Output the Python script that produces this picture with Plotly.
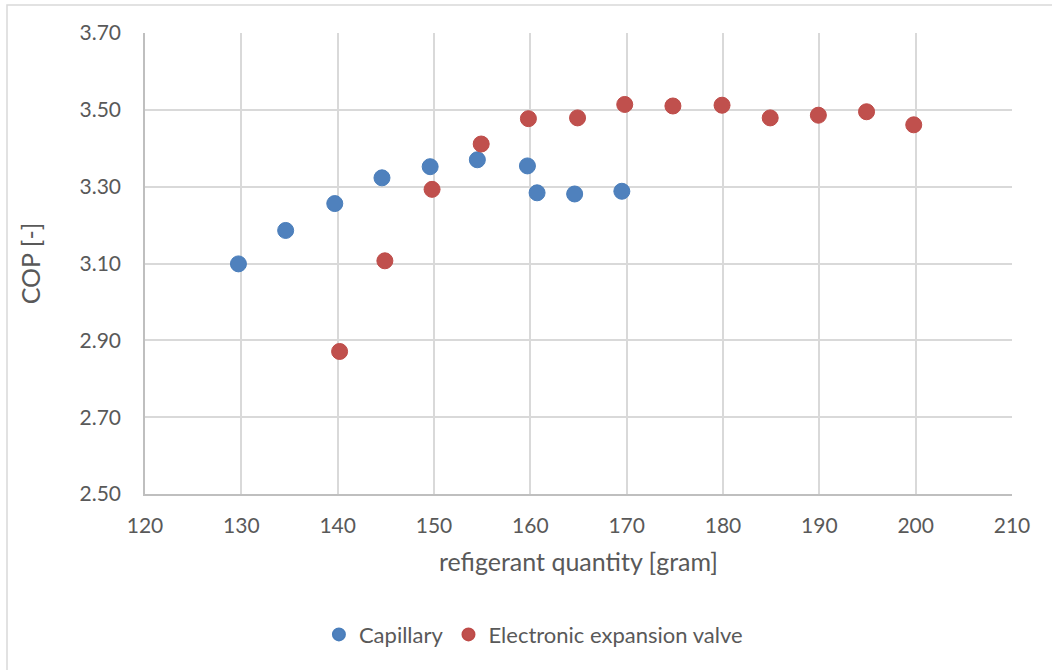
import plotly.graph_objects as go

# Refrigerant charge [g] and measured COP for each expansion device
capillary_charge = [129.7, 134.6, 139.7, 144.6, 149.6, 154.5, 159.7, 160.7, 164.6, 169.5]
capillary_cop = [3.099, 3.186, 3.256, 3.323, 3.352, 3.370, 3.354, 3.284, 3.281, 3.288]

eev_charge = [140.2, 144.9, 149.8, 154.9, 159.8, 164.9, 169.8, 174.8, 179.9, 184.9, 189.9, 194.9, 199.8]
eev_cop = [2.871, 3.107, 3.293, 3.411, 3.477, 3.479, 3.514, 3.510, 3.512, 3.479, 3.486, 3.495, 3.461]

x_ticks = [120, 130, 140, 150, 160, 170, 180, 190, 200, 210]
y_ticks = [2.50, 2.70, 2.90, 3.10, 3.30, 3.50, 3.70]

FONT = "Lato"
TEXT = "#595959"
GRID = "#d9d9d9"

fig = go.Figure()
fig.add_trace(go.Scatter(
    x=capillary_charge, y=capillary_cop, mode="markers", name="Capillary",
    marker=dict(size=16, color="#4f81bd", line=dict(width=1, color="#4a7ebb")),
))
fig.add_trace(go.Scatter(
    x=eev_charge, y=eev_cop, mode="markers", name="Electronic expansion valve",
    marker=dict(size=16, color="#c0504d", line=dict(width=1, color="#be4b48")),
))

fig.update_layout(
    width=1052, height=670,
    margin=dict(l=145, r=40, t=33, b=176),
    paper_bgcolor="white", plot_bgcolor="white",
    font=dict(family=FONT, size=20, color=TEXT),
    showlegend=True,
    legend=dict(
        orientation="h", x=0.448, xanchor="center", y=-0.305, yanchor="middle",
        font=dict(family=FONT, size=22, color=TEXT),
        itemsizing="constant", itemwidth=30, tracegroupgap=0,
    ),
    xaxis=dict(
        range=[120, 210], tickvals=x_ticks, ticktext=[str(v) for v in x_ticks],
        showgrid=True, gridcolor=GRID, gridwidth=1.5,
        showline=True, linecolor="#bfbfbf", linewidth=1.5,
        zeroline=False, ticks="", ticklabelstandoff=12,
        tickfont=dict(family=FONT, size=21, color=TEXT),
        title=dict(text="refigerant quantity [gram]", standoff=18,
                   font=dict(family=FONT, size=25, color=TEXT)),
    ),
    yaxis=dict(
        range=[2.50, 3.70], tickvals=y_ticks, ticktext=[f"{v:.2f}" for v in y_ticks],
        showgrid=True, gridcolor=GRID, gridwidth=1.5,
        showline=True, linecolor="#bfbfbf", linewidth=1.5,
        zeroline=False, ticks="", ticklabelstandoff=18,
        tickfont=dict(family=FONT, size=21, color=TEXT),
        title=dict(text="COP [-]", standoff=32,
                   font=dict(family=FONT, size=25, color=TEXT)),
    ),
)

# chart-area frame
fig.add_shape(type="rect", xref="paper", yref="paper",
              x0=-138 / 867, x1=1.2, y0=-0.5, y1=1 + 28 / 461,
              line=dict(color="#d9d9d9", width=1.5), fillcolor="rgba(0,0,0,0)", layer="below")

fig.write_html("out.html")
